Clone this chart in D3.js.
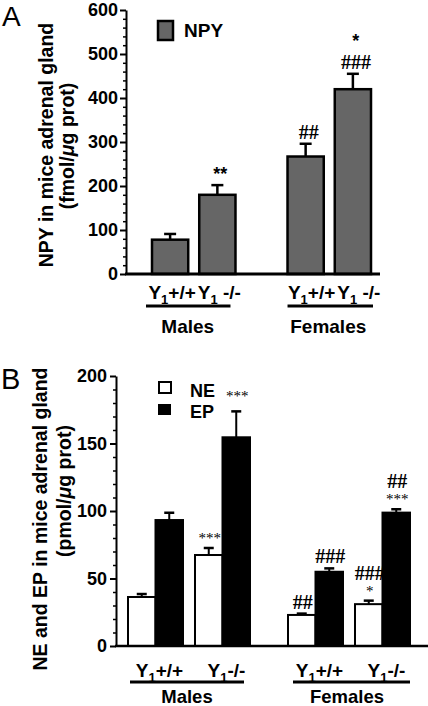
<!DOCTYPE html>
<html><head><meta charset="utf-8">
<script src="https://cdn.jsdelivr.net/npm/d3@7"></script>
<style>body{margin:0;background:#fff}svg{display:block}text{fill:#000}</style>
</head><body>
<svg id="c" width="428" height="706"></svg>
<script>
// ---------- data ----------
const sexes = ["Males", "Females"];
const genotypes = ["+/+", "-/-"];
const genoLabelsA = ["+/+", " -/-"];
const genoLabelsB = ["+/+", "-/-"];
// Panel A: NPY (fmol/µg prot), order: M+/+, M-/-, F+/+, F-/-
const npyMean = [78, 180, 267, 420];
const npySem = [13, 22, 29, 35];
const npyAnn = [[], ["**"], ["##"], ["###", "*"]]; // listed bottom-to-top
const npyTicks = [0, 100, 200, 300, 400, 500, 600];
// Panel B: NE / EP (pmol/µg prot)
const amines = ["NE", "EP"];
const neMean = [36.3, 67.4, 23, 31];
const neSem = [2.2, 5.2, 1, 2.6];
const epMean = [93.3, 154.6, 55, 98.8];
const epSem = [5.4, 19.2, 2.5, 2.5];
const neAnn = [[], ["***"], ["##"], ["*", "###"]];
const epAnn = [[], ["***"], ["###"], ["***", "##"]];
const catTicks = [0, 50, 100, 150, 200];

// ---------- style ----------
const SANS = "'Liberation Sans', Arial, Helvetica, sans-serif";
const SERIF = "'Liberation Serif', 'Times New Roman', serif";
const svg = d3.select("#c");

function styleAxis(g, fs) {
  g.select(".domain").attr("stroke", "#000").attr("stroke-width", 2);
  g.selectAll(".tick line").attr("stroke", "#000").attr("stroke-width", 2);
  g.selectAll(".tick text").attr("font-family", SANS).attr("font-weight", "bold")
    .attr("font-size", fs).attr("fill", "#000");
}
function genoLabel(g, x, y, suffix) {
  const t = g.append("text").attr("x", x).attr("y", y).attr("text-anchor", "middle")
    .attr("font-family", SANS).attr("font-weight", "bold").attr("font-size", 19);
  t.append("tspan").text("Y");
  t.append("tspan").attr("font-size", 13).attr("dy", 5).text("1");
  t.append("tspan").attr("dy", -5).text(suffix);
}
function annot(g, x, yBase, lines, sansStar, step) {
  lines.forEach((s, i) => {
    const isHash = s.includes("#");
    g.append("text").attr("x", x).attr("y", yBase - i * step).attr("text-anchor", "middle")
      .attr("font-family", isHash ? SERIF : (sansStar ? SANS : SERIF))
      .attr("font-weight", isHash || sansStar ? "bold" : "normal")
      .attr("font-size", isHash ? 20 : (sansStar ? 18 : 15))
      .attr("fill", "#000")
      .text(s);
  });
}
function yLabel(x, y, parts) {
  const t = svg.append("text").attr("transform", `translate(${x},${y}) rotate(-90)`)
    .attr("text-anchor", "middle").attr("font-family", SANS).attr("font-weight", "bold")
    .attr("font-size", 19.5);
  parts.forEach(p => t.append("tspan").attr("font-style", p.i ? "italic" : "normal").text(p.t));
}

// ================= Panel A =================
const yA = d3.scaleLinear().domain([0, 600]).range([274, 10]);
const xA = d3.scaleBand().domain(sexes).range([152, 371]).paddingInner(0.384);
const xAg = d3.scaleBand().domain(genotypes).range([0, xA.bandwidth()]).paddingInner(0.233);
const axA = 126;

const gA = svg.append("g");
gA.append("g").attr("transform", `translate(${axA},0)`)
  .call(d3.axisLeft(yA).tickValues(d3.range(0, 601, 20).filter(v => v % 100)).tickSize(3).tickFormat(""))
  .call(g => { g.select(".domain").remove(); g.selectAll("line").attr("stroke-width", 1.5); });
gA.append("g").attr("transform", `translate(${axA},0)`)
  .call(d3.axisLeft(yA).tickValues(npyTicks).tickSize(6).tickPadding(2).tickSizeOuter(0))
  .call(g => styleAxis(g, 18));

const rowsA = [];
sexes.forEach((s, i) => genotypes.forEach((gt, j) => {
  const k = i * 2 + j;
  rowsA.push({ s, gt, mean: npyMean[k], sem: npySem[k], ann: npyAnn[k] });
}));
rowsA.forEach(d => {
  const x0 = xA(d.s) + xAg(d.gt), w = xAg.bandwidth(), cx = x0 + w / 2;
  const yt = yA(d.mean + d.sem);
  gA.append("line").attr("x1", cx).attr("x2", cx).attr("y1", yA(d.mean)).attr("y2", yt)
    .attr("stroke", "#000").attr("stroke-width", 2.5);
  gA.append("line").attr("x1", cx - 6).attr("x2", cx + 6).attr("y1", yt).attr("y2", yt)
    .attr("stroke", "#000").attr("stroke-width", 2.5);
  gA.append("rect").attr("x", x0).attr("y", yA(d.mean)).attr("width", w)
    .attr("height", yA(0) - yA(d.mean)).attr("fill", "#666").attr("stroke", "#000").attr("stroke-width", 2.5);
  annot(gA, cx + 3, yt - 5, d.ann, true, 22);
});
gA.append("line").attr("x1", axA - 1).attr("x2", 380).attr("y1", yA(0)).attr("y2", yA(0))
  .attr("stroke", "#000").attr("stroke-width", 3);
sexes.forEach((s, i) => {
  const x0 = xA(s), x1 = x0 + xA.bandwidth();
  const off = i === 0 ? -5 : 2;
  genotypes.forEach((gt, j) => genoLabel(gA, x0 + xAg(gt) + xAg.bandwidth() / 2 + 2 + (i ? 4 : 0), 299, genoLabelsA[j]));
  gA.append("line").attr("x1", x0 - 3 + (i ? 3 : -3)).attr("x2", x1 + off).attr("y1", 306).attr("y2", 306)
    .attr("stroke", "#000").attr("stroke-width", 3);
  gA.append("text").attr("x", (x0 + x1) / 2 + (i ? -1 : -6)).attr("y", 333).attr("text-anchor", "middle")
    .attr("font-family", SANS).attr("font-weight", "bold").attr("font-size", 19).text(s);
});
gA.append("rect").attr("x", 158).attr("y", 21).attr("width", 15).attr("height", 19)
  .attr("fill", "#666").attr("stroke", "#000").attr("stroke-width", 2.5);
gA.append("text").attr("x", 184).attr("y", 37).attr("font-family", SANS).attr("font-weight", "bold")
  .attr("font-size", 19).text("NPY");
yLabel(53, 145, [{ t: "NPY in mice adrenal gland" }]);
yLabel(74, 146, [{ t: "(fmol/" }, { t: "μ", i: true }, { t: "g prot)" }]);
svg.append("text").attr("x", 2).attr("y", 26).attr("font-family", SANS).attr("font-size", 28).text("A");

// ================= Panel B =================
const yB = d3.scaleLinear().domain([0, 200]).range([646, 376]);
const xB = d3.scaleBand().domain(sexes).range([128, 410]).paddingInner(0.2375);
const xBg = d3.scaleBand().domain(genotypes).range([0, xB.bandwidth()]).paddingInner(0.179);
const xBa = d3.scaleBand().domain(amines).range([0, xBg.bandwidth()]);
const axB = 116;
const gB = svg.append("g");
gB.append("g").attr("transform", `translate(${axB},0)`)
  .call(d3.axisLeft(yB).tickValues(d3.range(0, 201, 10).filter(v => v % 50)).tickSize(3).tickFormat(""))
  .call(g => { g.select(".domain").remove(); g.selectAll("line").attr("stroke-width", 1.5); });
gB.append("g").attr("transform", `translate(${axB},0)`)
  .call(d3.axisLeft(yB).tickValues(catTicks).tickSize(6).tickPadding(3).tickSizeOuter(0))
  .call(g => styleAxis(g, 18));

const rowsB = [];
sexes.forEach((s, i) => genotypes.forEach((gt, j) => {
  const k = i * 2 + j;
  rowsB.push({ s, gt, a: "NE", mean: neMean[k], sem: neSem[k], ann: neAnn[k] });
  rowsB.push({ s, gt, a: "EP", mean: epMean[k], sem: epSem[k], ann: epAnn[k] });
}));
rowsB.forEach(d => {
  const x0 = xB(d.s) + xBg(d.gt) + xBa(d.a), w = xBa.bandwidth(), cx = x0 + w / 2;
  const yt = yB(d.mean + d.sem);
  gB.append("line").attr("x1", cx).attr("x2", cx).attr("y1", yB(d.mean)).attr("y2", yt)
    .attr("stroke", "#000").attr("stroke-width", 2);
  gB.append("line").attr("x1", cx - 5).attr("x2", cx + 5).attr("y1", yt).attr("y2", yt)
    .attr("stroke", "#000").attr("stroke-width", 2.5);
  gB.append("rect").attr("x", x0).attr("y", yB(d.mean)).attr("width", w)
    .attr("height", yB(0) - yB(d.mean)).attr("fill", d.a === "NE" ? "#fff" : "#000")
    .attr("stroke", "#000").attr("stroke-width", 2);
  annot(gB, cx + 1, yt - (d.mean > 150 ? 10 : 5), d.ann, false, 16);
});
gB.append("line").attr("x1", axB - 1).attr("x2", 428).attr("y1", yB(0)).attr("y2", yB(0))
  .attr("stroke", "#000").attr("stroke-width", 2.5);
sexes.forEach((s, i) => {
  const x0 = xB(s), x1 = x0 + xB.bandwidth();
  genotypes.forEach((gt, j) => genoLabel(gB, x0 + xBg(gt) + xBg.bandwidth() / 2 + 4, 677, genoLabelsB[j]));
  gB.append("line").attr("x1", x0 + (i ? 5 : 2)).attr("x2", x1 + (i ? 0 : -6)).attr("y1", 682).attr("y2", 682)
    .attr("stroke", "#000").attr("stroke-width", 3);
  gB.append("text").attr("x", (x0 + x1) / 2 - 2).attr("y", 703).attr("text-anchor", "middle")
    .attr("font-family", SANS).attr("font-weight", "bold").attr("font-size", 18.5).text(s);
});
gB.append("rect").attr("x", 159).attr("y", 382).attr("width", 12).attr("height", 11)
  .attr("fill", "#fff").attr("stroke", "#000").attr("stroke-width", 2);
gB.append("text").attr("x", 190).attr("y", 397).attr("font-family", SANS).attr("font-weight", "bold")
  .attr("font-size", 18).text("NE");
gB.append("rect").attr("x", 158).attr("y", 404).attr("width", 13).attr("height", 11).attr("fill", "#000");
gB.append("text").attr("x", 190).attr("y", 418).attr("font-family", SANS).attr("font-weight", "bold")
  .attr("font-size", 18).text("EP");
yLabel(47, 519, [{ t: "NE and EP in mice adrenal gland" }]);
yLabel(71, 491, [{ t: "(pmol/" }, { t: "μ", i: true }, { t: "g prot)" }]);
svg.append("text").attr("x", 1).attr("y", 389).attr("font-family", SANS).attr("font-size", 29).text("B");
</script>
</body></html>
